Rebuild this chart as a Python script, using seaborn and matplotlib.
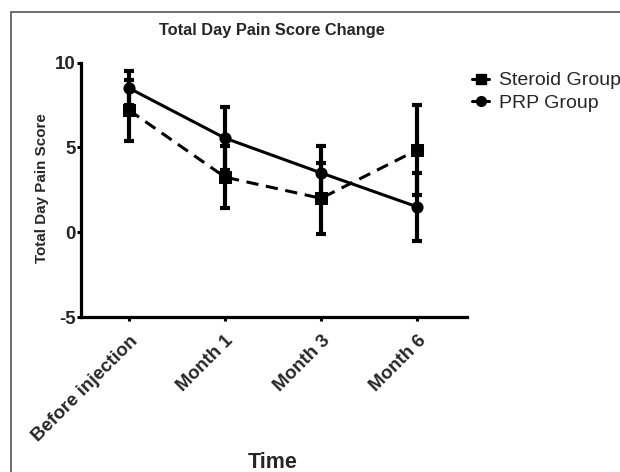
import matplotlib
matplotlib.use("Agg")
import matplotlib.pyplot as plt
from matplotlib.lines import Line2D
from matplotlib.patches import Rectangle
import seaborn as sns
import pandas as pd

categories = ["Before injection", "Month 1", "Month 3", "Month 6"]
steroid_mean = [7.2, 3.25, 2.0, 4.85]
steroid_sd = [1.8, 1.85, 2.1, 2.65]
prp_mean = [8.5, 5.55, 3.5, 1.5]
prp_sd = [1.0, 1.85, 1.6, 2.0]
y_ticks = [-5, 0, 5, 10]

sns.set_theme(style="white")
plt.rcParams["font.family"] = ["Liberation Sans", "DejaVu Sans"]

df = pd.DataFrame({
    "Time": categories * 2,
    "Score": steroid_mean + prp_mean,
    "Group": ["Steroid Group"] * 4 + ["PRP Group"] * 4,
})

fig = plt.figure(figsize=(6.2, 4.72), dpi=100)
ax = fig.add_axes([81 / 620, 1 - 317 / 472, (467 - 81) / 620, (317 - 62.7) / 472])

xs = list(range(len(categories)))
# error bars
ax.errorbar(xs, steroid_mean, yerr=steroid_sd, fmt="none", ecolor="black",
            elinewidth=3, capsize=3.8, capthick=3, zorder=2)
ax.errorbar(xs, prp_mean, yerr=prp_sd, fmt="none", ecolor="black",
            elinewidth=3, capsize=3.8, capthick=3, zorder=2)

sns.lineplot(data=df[df.Group == "Steroid Group"], x="Time", y="Score", ax=ax,
             color="black", linewidth=2.2, marker="s", markersize=8,
             markeredgecolor="black", sort=False, linestyle=(0, (4, 2.5)), zorder=3)
sns.lineplot(data=df[df.Group == "PRP Group"], x="Time", y="Score", ax=ax,
             color="black", linewidth=2.2, marker="o", markersize=8,
             markeredgecolor="black", sort=False, zorder=3)

ax.set_xlim(-0.5, 3.52)
ax.set_ylim(-5, 10)
ax.set_yticks(y_ticks)
ax.set_yticklabels([str(t) for t in y_ticks], fontsize=13.5, fontweight="bold")
ax.set_xticks(xs)
ax.set_xticklabels(categories, rotation=45, ha="right", rotation_mode="anchor",
                   fontsize=13.5, fontweight="bold")
ax.tick_params(axis="both", which="both", direction="out", length=3, width=2.2,
               color="black", pad=1, left=True, bottom=True)
ax.tick_params(axis="x", pad=8)
ax.set_xlabel("")
ax.set_ylabel("")
fig.text(42 / 620, 1 - 188 / 472, "Total Day Pain Score", rotation=90,
         ha="center", va="center", fontsize=10.9, fontweight="bold")
for s in ["top", "right"]:
    ax.spines[s].set_visible(False)
for s in ["left", "bottom"]:
    ax.spines[s].set_linewidth(2.3)
    ax.spines[s].set_color("black")

handles = [
    Line2D([0], [0], color="black", linewidth=2.2, marker="s", markersize=7),
    Line2D([0], [0], color="black", linewidth=2.2, marker="o", markersize=7),
]
ax.legend(handles, ["Steroid Group", "PRP Group"], loc="upper left",
          bbox_to_anchor=(464 / 620, 1 - 64 / 472), bbox_transform=fig.transFigure,
          frameon=False, fontsize=14, handlelength=0.9, handletextpad=0.5,
          labelspacing=0.25, borderaxespad=0)

fig.text(272 / 620, 1 - 31 / 472, "Total Day Pain Score Change", ha="center",
         va="center", fontsize=11.8, fontweight="bold")
fig.text(273 / 620, 1 - 462 / 472, "Time", ha="center", va="center",
         fontsize=15.5, fontweight="bold")

fig.patches.append(Rectangle((11 / 620, -0.1), 1.2, 1 - 12 / 472 + 0.1,
                             transform=fig.transFigure, fill=False,
                             edgecolor="#555555", linewidth=1.2))

fig.savefig("out.png", dpi=100)
